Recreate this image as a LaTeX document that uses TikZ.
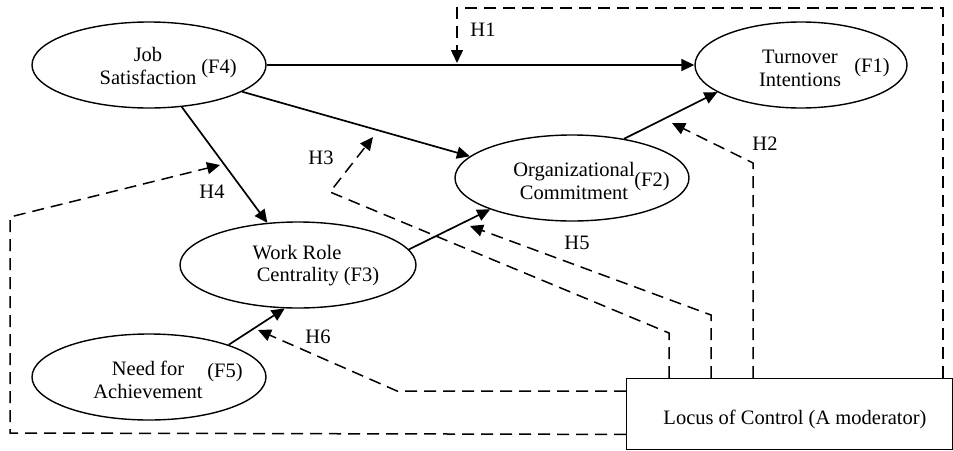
\documentclass[tikz,border=0pt]{standalone}
\usepackage{fontspec}
\setmainfont{Liberation Serif}
\usetikzlibrary{arrows.meta,calc,shapes.geometric}
\begin{document}
\begin{tikzpicture}[x=1pt,y=-1pt,
  construct/.style={draw,ellipse,line width=1.4pt,minimum width=#1,minimum height=86pt,inner sep=0pt},
  construct/.default=234pt,
  lbl/.style={font=\fontsize{20.5}{23}\selectfont,inner sep=0pt,align=center},
  path/.style={line width=1.7pt,-{Triangle[length=13pt,width=12pt]}},
  mod/.style={line width=1.5pt,dash pattern=on 12pt off 7pt,-{Triangle[length=13pt,width=12pt]}}]
\useasboundingbox (0,0) rectangle (953,450);
% constructs
\node[construct=234pt] (js) at (149,65) {};
\node[construct=212pt] (ti) at (801,65) {};
\node[construct=234pt] (oc) at (572,178) {};
\node[construct=236pt] (wrc) at (298,265) {};
\node[construct=234pt] (na) at (149,377) {};
\node[draw,line width=1.4pt,minimum width=326pt,minimum height=71pt,inner sep=0pt,anchor=north west] (loc) at (626,378) {};
% texts
\node[lbl] (jst) at (148,66) {Job\\Satisfaction};
\node[lbl] (jsf) at (219,69) {(F4)};
\node[lbl] (tit) at (800,68) {Turnover\\Intentions};
\node[lbl] (tif) at (872,68) {(F1)};
\node[lbl] (oct) at (574,181) {Organizational\\Commitment};
\node[lbl] (ocf) at (652,182) {(F2)};
\node[lbl] (wrct) at (297,253) {Work Role};
\node[lbl] (wrcf) at (318,277) {Centrality (F3)};
\node[lbl] (nat) at (148,380) {Need for\\Achievement};
\node[lbl] (naf) at (225,373) {(F5)};
\node[lbl] (loct) at (795,419) {Locus of Control (A moderator)};
% hypothesis labels
\node[lbl] (h1l) at (483,30) {H1};
\node[lbl] (h2l) at (765,144) {H2};
\node[lbl] (h3l) at (321,158) {H3};
\node[lbl] (h4l) at (212,192) {H4};
\node[lbl] (h5l) at (577,243) {H5};
\node[lbl] (h6l) at (318,337) {H6};
% solid paths
\draw[path] (js.east) -- (ti.west);
\draw[path] (js.-16) -- (oc.168);
\draw[path] (js.-52) -- (wrc.126);
\draw[path] (oc.37) -- (ti.-162);
\draw[path] (wrc.8) -- (oc.-159);
\draw[path] (na.22) -- (wrc.-107);
% moderator paths
\coordinate (h1) at (457,63);
\coordinate (h2) at (672,123);
\coordinate (h3) at (373,137);
\coordinate (h4) at (220,165);
\coordinate (h5) at (470,226);
\coordinate (h6) at (258,330);
\draw[mod] ($(loc.north west)+(317,0)$) -- ++(0,-370) -| (h1);
\draw[mod] ($(loc.north west)+(127,0)$) -- ++(0,-215) -- (h2);
\draw[mod] ($(loc.north west)+(43,0)$) -- ++(0,-45) -- (330,192) -- (h3);
\draw[mod] ($(loc.north west)+(85,0)$) -- ++(0,-63) -- (h5);
\draw[mod] ($(loc.north west)+(0,13)$) -- (397,391) -- (h6);
\draw[mod] ($(loc.south west)+(0,-16)$) -- (10,433) -- (10,217) -- (h4);
\end{tikzpicture}
\end{document}
